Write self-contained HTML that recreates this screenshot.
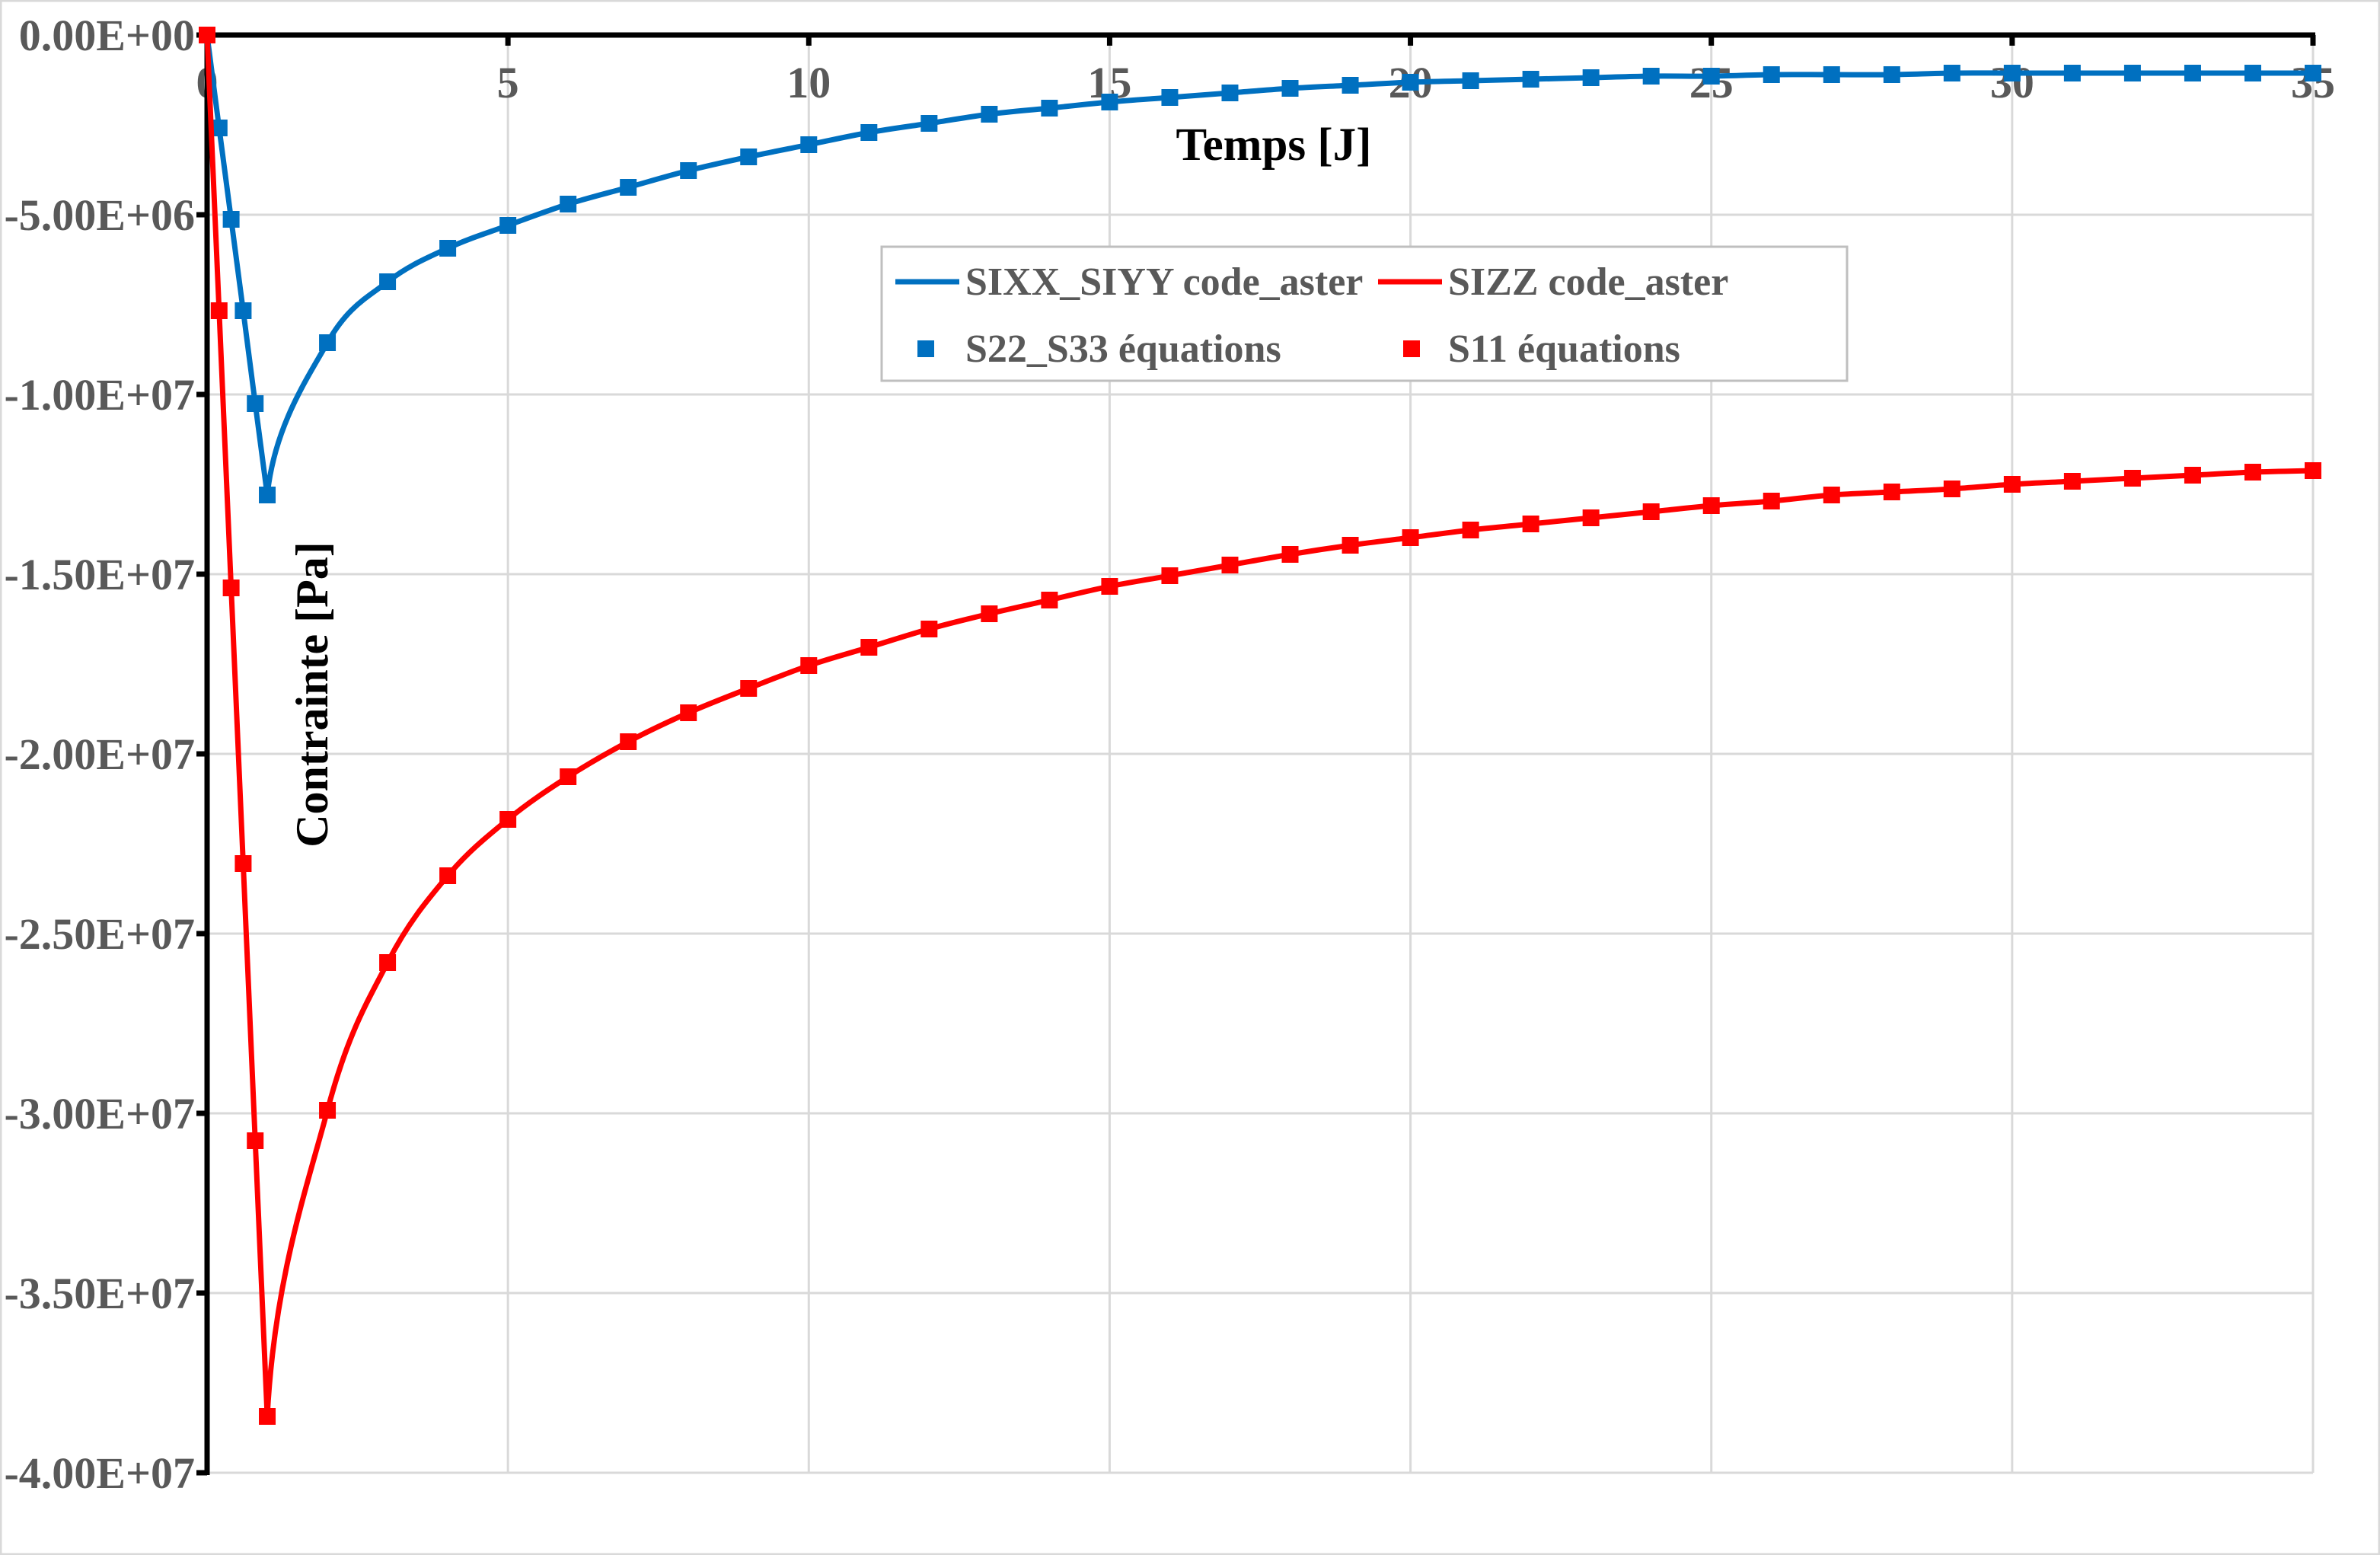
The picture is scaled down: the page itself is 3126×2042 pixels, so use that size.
<!DOCTYPE html>
<html><head><meta charset="utf-8"><style>
html,body{margin:0;padding:0;background:#fff;}
svg{display:block}
</style></head><body>
<svg id="s" width="3126" height="2042" xmlns="http://www.w3.org/2000/svg" font-family="Liberation Serif, serif" font-weight="bold">
<rect x="1" y="1" width="3124" height="2040" fill="#fff" stroke="#d9d9d9" stroke-width="3"/>
<g id="grid" stroke="#d9d9d9" stroke-width="3"></g>
<g id="ylab" fill="#595959" font-size="58" text-anchor="end"></g>
<g id="xlab" fill="#595959" font-size="58" text-anchor="middle"></g>
<g id="axes"></g>
<g id="series"></g>
<text x="1673" y="210" font-size="61" text-anchor="middle" fill="#000">Temps [J]</text>
<text transform="translate(430,912) rotate(-90)" font-size="60" text-anchor="middle" fill="#000">Contrainte [Pa]</text>
<rect x="1158" y="324" width="1268" height="176" fill="#fff" stroke="#bfbfbf" stroke-width="3"/>
<line x1="1176" y1="370" x2="1260" y2="370" stroke="#0070c0" stroke-width="7"/>
<text x="1268" y="387" font-size="52" fill="#595959">SIXX_SIYY code_aster</text>
<line x1="1810" y1="370" x2="1894" y2="370" stroke="#ff0000" stroke-width="7"/>
<text x="1902" y="387" font-size="52" fill="#595959">SIZZ code_aster</text>
<rect x="1205" y="447" width="22" height="22" fill="#0070c0"/>
<text x="1268" y="475" font-size="52" fill="#595959">S22_S33 équations</text>
<rect x="1843" y="447" width="22" height="22" fill="#ff0000"/>
<text x="1902" y="475" font-size="52" fill="#595959">S11 équations</text>
</svg>
<script>
var NS="http://www.w3.org/2000/svg";
function el(p,t,a,txt){var e=document.createElementNS(NS,t);for(var k in a)e.setAttribute(k,a[k]);if(txt!=null)e.textContent=txt;p.appendChild(e);return e;}
var X0=272,X35=3038,Y0=46,Ystep=236;
function X(t){return X0+t*(X35-X0)/35;}
var g=document.getElementById('grid');
for(var i=1;i<=8;i++){el(g,'line',{x1:X0,x2:X35,y1:Y0+i*Ystep,y2:Y0+i*Ystep});}
for(var t=5;t<=35;t+=5){el(g,'line',{x1:X(t),x2:X(t),y1:Y0,y2:Y0+8*Ystep});}
var yl=document.getElementById('ylab');
var labs=["0.00E+00","-5.00E+06","-1.00E+07","-1.50E+07","-2.00E+07","-2.50E+07","-3.00E+07","-3.50E+07","-4.00E+07"];
for(var i=0;i<9;i++)el(yl,'text',{x:256,y:Y0+i*Ystep+20},labs[i]);
var xl=document.getElementById('xlab');
for(var t=0;t<=35;t+=5)el(xl,'text',{x:X(t),y:128},String(t));
var ax=document.getElementById('axes');
el(ax,'line',{x1:X0,x2:X35+3,y1:Y0,y2:Y0,stroke:'#000','stroke-width':7});
el(ax,'line',{x1:X0,x2:X0,y1:Y0-3,y2:Y0+8*Ystep+3,stroke:'#000','stroke-width':7});
for(var t=5;t<=35;t+=5)el(ax,'line',{x1:X(t),x2:X(t),y1:Y0,y2:Y0+14,stroke:'#000','stroke-width':7});
for(var i=0;i<=8;i++)el(ax,'line',{x1:X0-14,x2:X0,y1:Y0+i*Ystep,y2:Y0+i*Ystep,stroke:'#000','stroke-width':7});
var ts=[0,.2,.4,.6,.8,1];for(var t=2;t<=35;t++)ts.push(t);
var blue=[23,84,144,204,265,325,225,185,163,148,134,123,112,103,95,87,81,75,71,67,64,61,58,56,54,53,52,51,50,50,49,49,49,48,48,48,48,48,48,48];
var red=[23,204,386,567,749,930,729,632,575,538,510,487,468,452,437,425,413,403,394,385,378,371,364,358,353,348,344,340,336,332,329,327,325,323,321,318,316,314,312,310,309];
red.splice(31,1);
function path(ys){var P=ts.map(function(t,i){return [X(t),ys[i]*2];});
var d="M"+P[0][0]+","+P[0][1];
for(var i=0;i<P.length-1;i++){
 var p0=P[i],p1=P[i+1];
 if(i<5){d+=" L"+p1[0]+","+p1[1];continue;}
 var pm=P[i-1],p2=P[i+2]||p1;
 var s=0.17;
 var c1=[p0[0]+(p1[0]-pm[0])*s,p0[1]+(p1[1]-pm[1])*s];
 if(i==5){c1=[p0[0]+(p1[0]-p0[0])*0.12,p0[1]+(p1[1]-p0[1])*0.45];}
 var c2=[p1[0]-(p2[0]-p0[0])*s,p1[1]-(p2[1]-p0[1])*s];
 d+=" C"+c1[0]+","+c1[1]+" "+c2[0]+","+c2[1]+" "+p1[0]+","+p1[1];}
return [d,P];}
var sg=document.getElementById('series');
[[blue,'#0070c0'],[red,'#ff0000']].forEach(function(s){
 var r=path(s[0]);
 el(sg,'path',{d:r[0],fill:'none',stroke:s[1],'stroke-width':7,'stroke-linejoin':'round'});
 r[1].forEach(function(p){el(sg,'rect',{x:p[0]-11,y:p[1]-11,width:22,height:22,fill:s[1]});});
});
</script>
</body></html>
